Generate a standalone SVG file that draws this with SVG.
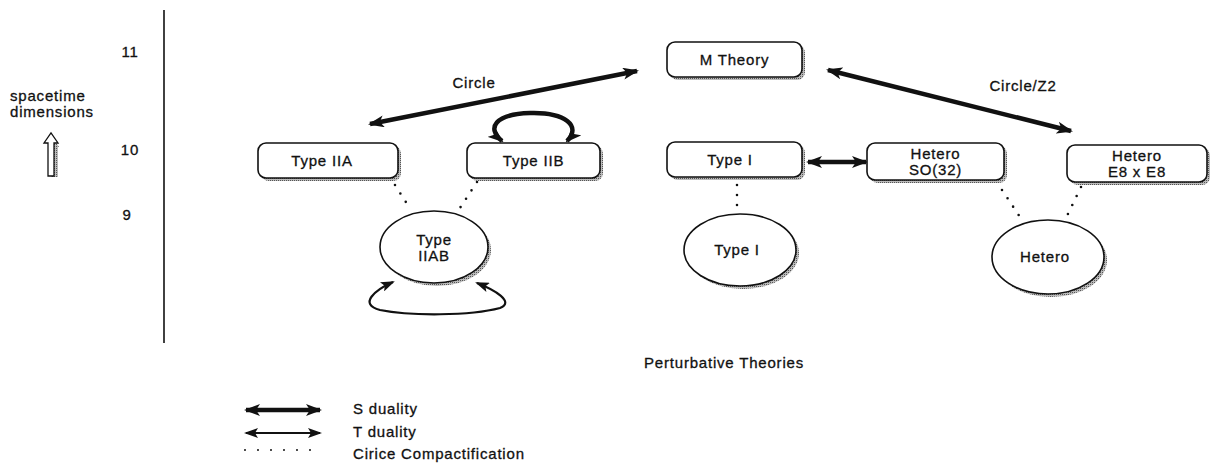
<svg xmlns="http://www.w3.org/2000/svg" width="1219" height="465" viewBox="0 0 1219 465">
<style>
text{font-family:"Liberation Sans",Arial,sans-serif;font-size:15px;letter-spacing:0.8px;fill:#111;stroke:#111;stroke-width:0.3;}
.box{fill:#fff;stroke:#111;stroke-width:1.6;}
.shd{fill:url(#stip);}
.dot{fill:none;stroke:#111;stroke-width:2.6;stroke-linecap:round;stroke-dasharray:0 10;}
.s{fill:none;stroke:#111;stroke-width:4.5;}
.t{fill:none;stroke:#111;stroke-width:2.2;}
</style>
<defs>
<pattern id="stip" width="2" height="2" patternUnits="userSpaceOnUse">
<rect width="2" height="2" fill="#bbb"/><rect width="1" height="1" fill="#555"/>
</pattern>
<marker id="sh" markerUnits="userSpaceOnUse" viewBox="0 0 16 12" refX="14" refY="6" markerWidth="16" markerHeight="12" orient="auto-start-reverse">
<path d="M0,0 L16,6 L0,12 L4,6 Z" fill="#111"/>
</marker>
<marker id="th" markerUnits="userSpaceOnUse" viewBox="0 0 14 10" refX="12" refY="5" markerWidth="14" markerHeight="10" orient="auto-start-reverse">
<path d="M0,0 L14,5 L0,10 L3,5 Z" fill="#111"/>
</marker>
</defs>

<g id="axis">
<line x1="164" y1="10" x2="164" y2="343" stroke="#111" stroke-width="1.6"/>
<text x="130" y="57" text-anchor="middle">11</text>
<text x="130" y="155" text-anchor="middle">10</text>
<text x="127" y="220" text-anchor="middle">9</text>
<text x="10" y="101">spacetime</text>
<text x="10" y="117">dimensions</text>
<path d="M46,144 L51,144 L51,177 L58,177 L58,147 L59,147 L52,136 Z" class="shd"/>
<path d="M44,143 L48,143 L48,176 L54,176 L54,143 L58,143 L51,133 Z" fill="#fff" stroke="#111" stroke-width="1.3"/>
</g>

<g id="connectors">
<line x1="370" y1="124" x2="637" y2="71" class="s" marker-start="url(#sh)" marker-end="url(#sh)"/>
<line x1="828" y1="70" x2="1071" y2="131" class="s" marker-start="url(#sh)" marker-end="url(#sh)"/>
<line x1="808" y1="162" x2="866" y2="162" class="s" marker-start="url(#sh)" marker-end="url(#sh)"/>
<path d="M502,141 C486,128 495,114 530,113 C565,112 582,126 567,141" class="s" marker-start="url(#sh)" marker-end="url(#sh)"/>
<path d="M393,282 C375,290 358,304 380,310 C410,316 470,316 500,308 C515,302 495,290 477,283" class="t" marker-start="url(#th)" marker-end="url(#th)"/>
<path d="M395,185 L409,207" class="dot"/>
<path d="M477,182 L458,211" class="dot"/>
<path d="M737,185 L737,206" class="dot"/>
<path d="M1002,190 L1022,220" class="dot"/>
<path d="M1081,187 L1066,218" class="dot"/>
<text x="474" y="88" text-anchor="middle">Circle</text>
<text x="1023" y="91" text-anchor="middle">Circle/Z2</text>
</g>

<g id="mtheory">
<rect x="670" y="45" width="135" height="35" rx="8" class="shd"/>
<rect x="667" y="42" width="135" height="35" rx="8" class="box"/>
<text x="734.5" y="65" text-anchor="middle">M Theory</text>
</g>
<g id="typeIIA">
<rect x="261" y="146" width="140" height="35" rx="8" class="shd"/>
<rect x="258" y="143" width="140" height="35" rx="8" class="box"/>
<text x="322" y="166" text-anchor="middle">Type IIA</text>
</g>
<g id="typeIIB">
<rect x="470" y="146" width="133" height="35" rx="8" class="shd"/>
<rect x="467" y="143" width="133" height="35" rx="8" class="box"/>
<text x="533.5" y="166" text-anchor="middle">Type IIB</text>
</g>
<g id="typeI">
<rect x="670" y="145" width="135" height="35" rx="8" class="shd"/>
<rect x="667" y="142" width="135" height="35" rx="8" class="box"/>
<text x="730" y="165" text-anchor="middle">Type I</text>
</g>
<g id="heteroSO32">
<rect x="870" y="146" width="137" height="37" rx="8" class="shd"/>
<rect x="867" y="143" width="137" height="37" rx="8" class="box"/>
<text x="935.5" y="159" text-anchor="middle">Hetero</text>
<text x="935.5" y="175" text-anchor="middle">SO(32)</text>
</g>
<g id="heteroE8">
<rect x="1070" y="148" width="140" height="37" rx="8" class="shd"/>
<rect x="1067" y="145" width="140" height="37" rx="8" class="box"/>
<text x="1137" y="161" text-anchor="middle">Hetero</text>
<text x="1137" y="177" text-anchor="middle">E8 x E8</text>
</g>
<g id="typeIIAB">
<ellipse cx="437" cy="250" rx="54" ry="36" class="shd"/>
<ellipse cx="434" cy="247" rx="54" ry="36" class="box"/>
<text x="434" y="245" text-anchor="middle">Type</text>
<text x="434" y="261" text-anchor="middle">IIAB</text>
</g>
<g id="typeIcircle">
<ellipse cx="743" cy="253" rx="56" ry="36" class="shd"/>
<ellipse cx="740" cy="250" rx="56" ry="36" class="box"/>
<text x="737" y="255" text-anchor="middle">Type I</text>
</g>
<g id="hetero">
<ellipse cx="1051" cy="260" rx="56" ry="37" class="shd"/>
<ellipse cx="1048" cy="257" rx="56" ry="37" class="box"/>
<text x="1045" y="262" text-anchor="middle">Hetero</text>
</g>

<text x="724" y="368" text-anchor="middle">Perturbative Theories</text>

<g id="legend">
<line x1="246" y1="410" x2="320" y2="410" class="s" marker-start="url(#sh)" marker-end="url(#sh)"/>
<line x1="246" y1="433" x2="320" y2="433" class="t" marker-start="url(#th)" marker-end="url(#th)"/>
<path d="M245,450 L322,450" class="dot" style="stroke-width:2;stroke-dasharray:0 13"/>
<text x="353" y="414">S duality</text>
<text x="353" y="437">T duality</text>
<text x="353" y="459">Cirice Compactification</text>
</g>
</svg>
